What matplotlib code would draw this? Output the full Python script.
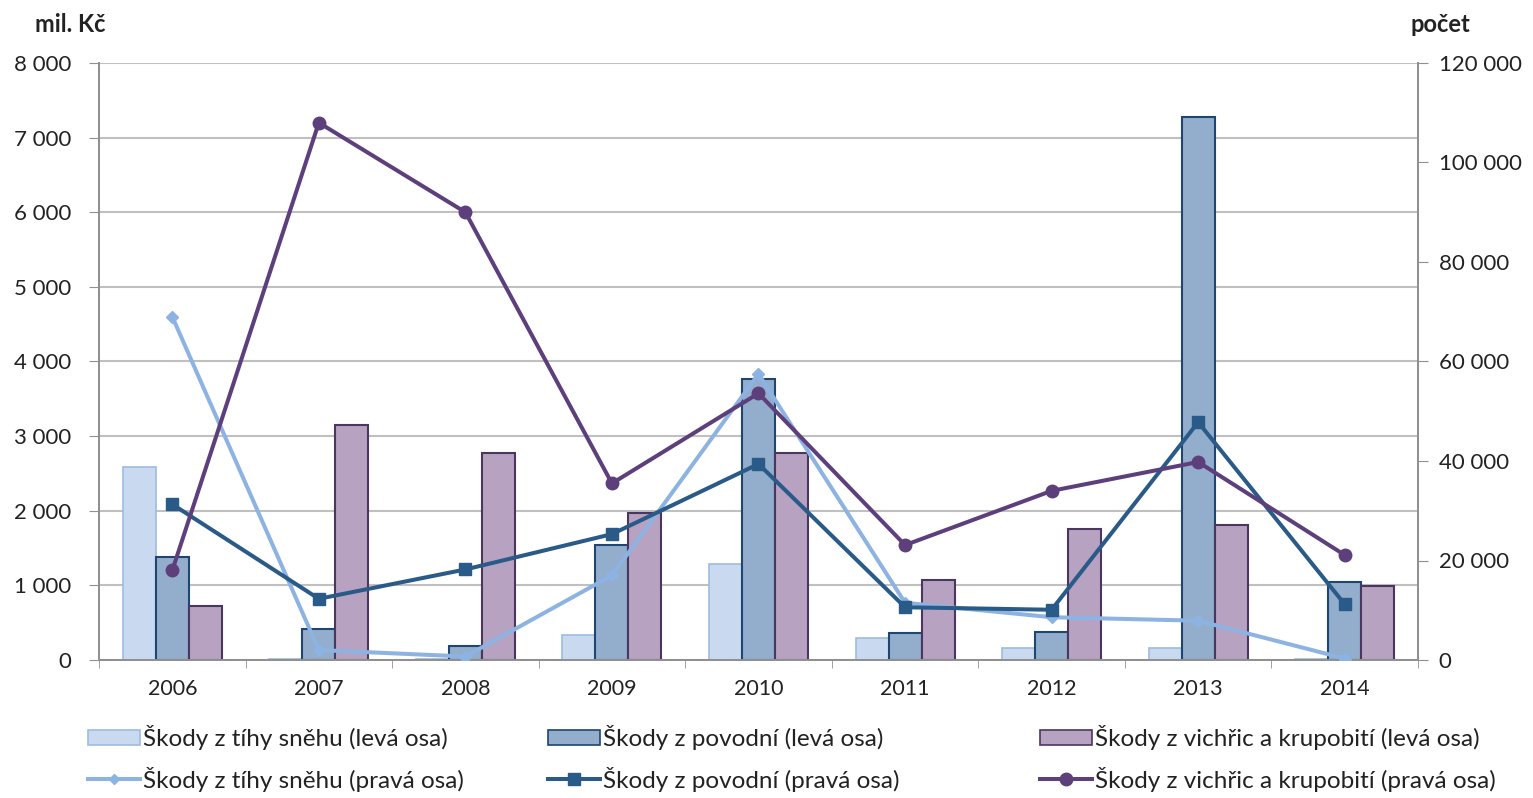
import matplotlib
matplotlib.use("Agg")
import matplotlib.pyplot as plt
import numpy as np
from matplotlib.ticker import FuncFormatter, MultipleLocator
from matplotlib.patches import Patch
from matplotlib.lines import Line2D

plt.rcParams['font.family'] = ['Lato', 'DejaVu Sans']

years = ["2006", "2007", "2008", "2009", "2010", "2011", "2012", "2013", "2014"]

# left axis (mil. Kč) - bars
snow_damage = [2580, 10, 20, 340, 1280, 290, 160, 160, 20]
flood_damage = [1380, 410, 190, 1540, 3770, 360, 370, 7280, 1050]
storm_damage = [720, 3150, 2780, 1970, 2770, 1070, 1760, 1810, 990]

# right axis (počet) - lines
snow_count = [69000, 2000, 700, 17000, 57500, 11500, 8600, 7900, 300]
flood_count = [31300, 12300, 18200, 25300, 39400, 10600, 10100, 47800, 11200]
storm_count = [18000, 108000, 90000, 35500, 53600, 23100, 34000, 39800, 21100]

labels_bar = ["Škody z tíhy sněhu (levá osa)", "Škody z povodní (levá osa)",
              "Škody z vichřic a krupobití (levá osa)"]
labels_line = ["Škody z tíhy sněhu (pravá osa)", "Škody z povodní (pravá osa)",
               "Škody z vichřic a krupobití (pravá osa)"]

snow_fill, snow_edge = "#c9daf0", "#9dbbe0"
flood_fill, flood_edge = "#93adcc", "#1f4670"
storm_fill, storm_edge = "#b7a2c2", "#4a3760"
snow_line_c = "#8db3e2"
flood_line_c = "#2a5a88"
storm_line_c = "#5d3f7c"

fig = plt.figure(figsize=(15.33, 7.98), dpi=100)
ax = fig.add_axes([99/1533, 1-660/798, (1418-99)/1533, (660-63)/798])
ax2 = ax.twinx()

x = np.arange(len(years))
w = 0.225
ax.bar(x - w, snow_damage, w, color=snow_fill, edgecolor=snow_edge, linewidth=1.2, zorder=2)
ax.bar(x, flood_damage, w, color=flood_fill, edgecolor=flood_edge, linewidth=1.5, zorder=2)
ax.bar(x + w, storm_damage, w, color=storm_fill, edgecolor=storm_edge, linewidth=1.5, zorder=2)

ax2.plot(x, snow_count, color=snow_line_c, lw=2.9, marker="D", ms=6, zorder=3)
ax2.plot(x, flood_count, color=flood_line_c, lw=2.9, marker="s", ms=9, zorder=3)
ax2.plot(x, storm_count, color=storm_line_c, lw=2.9, marker="o", ms=9, zorder=3)

ax.set_xlim(-0.5, len(years) - 0.5)
ax.set_ylim(0, 8000)
ax2.set_ylim(0, 120000)
ax.yaxis.set_major_locator(MultipleLocator(1000))
ax2.yaxis.set_major_locator(MultipleLocator(20000))
fmt = FuncFormatter(lambda v, p: f"{int(v):,}".replace(",", " "))
ax.yaxis.set_major_formatter(fmt)
ax2.yaxis.set_major_formatter(fmt)

ax.grid(axis="y", color="#c0c0c0", lw=1.5, zorder=0)
ax.set_axisbelow(True)

ax.set_xticks(x)
ax.set_xticklabels(years)
ax.set_xticks(np.arange(len(years) + 1) - 0.5, minor=True)
ax.tick_params(axis="x", which="major", length=0, pad=14, labelsize=15.5, colors="#222222")
ax.tick_params(axis="x", which="minor", length=6, color="#909090")
ax.tick_params(axis="y", length=7, color="#909090", labelsize=16, pad=13, labelcolor="#222222")
ax2.tick_params(axis="y", length=7, color="#909090", labelsize=16, pad=8, labelcolor="#222222")

for a in (ax, ax2):
    a.spines["top"].set_visible(False)
    for s in ("left", "right", "bottom"):
        a.spines[s].set_color("#909090")
        a.spines[s].set_linewidth(1.3)

fig.text(35/1533, 1-24/798, "mil. Kč", fontsize=17, fontweight="bold", va="center", ha="left", color="#222222")
fig.text(1411/1533, 1-24/798, "počet", fontsize=17, fontweight="bold", va="center", ha="left", color="#222222")

bar_styles = [(snow_fill, snow_edge), (flood_fill, flood_edge), (storm_fill, storm_edge)]
line_styles = [(snow_line_c, "D", 5), (flood_line_c, "s", 9), (storm_line_c, "o", 9)]
xpos = [88, 548, 1040]
for i in range(3):
    handles = [Patch(facecolor=bar_styles[i][0], edgecolor=bar_styles[i][1], linewidth=1.2),
               Line2D([0], [0], color=line_styles[i][0], lw=2.9, marker=line_styles[i][1], ms=line_styles[i][2])]
    fig.legend(handles, [labels_bar[i], labels_line[i]], loc="upper left",
               bbox_to_anchor=(xpos[i]/1533, 1-725/798), frameon=False, fontsize=17.5,
               handlelength=2.15, handleheight=0.62, handletextpad=0.12, labelspacing=0.68,
               borderaxespad=0, borderpad=0, labelcolor="#222222")

fig.savefig("out.png", dpi=100)
